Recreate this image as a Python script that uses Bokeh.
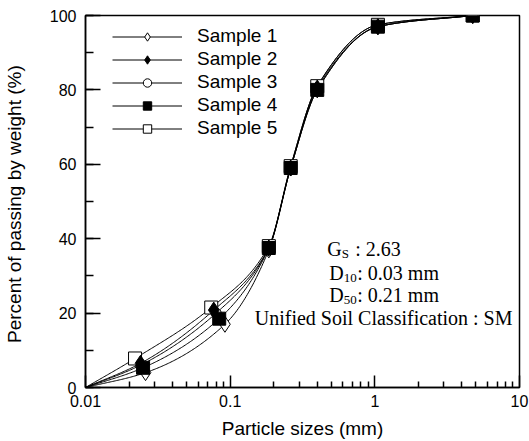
import numpy as np
from bokeh.plotting import figure
from bokeh.models import (Range1d, FixedTicker, SingleIntervalTicker, Legend,
                          LegendItem, Label)
from bokeh.embed import file_html
from bokeh.resources import INLINE

# Grain-size distribution: particle size (mm) vs. percent passing (%)
sample_names = ["Sample 1", "Sample 2", "Sample 3", "Sample 4", "Sample 5"]

size_s1 = [0.026, 0.092, 0.185, 0.262, 0.40, 1.05, 4.75]
pass_s1 = [4.0, 17.0, 37.0, 59.0, 80.0, 97.0, 100.0]

size_s2 = [0.024, 0.077, 0.185, 0.262, 0.40, 1.05, 4.75]
pass_s2 = [6.5, 20.8, 37.5, 59.0, 80.5, 97.0, 100.0]

size_s3 = [0.024, 0.080, 0.185, 0.262, 0.40, 1.05, 4.75]
pass_s3 = [6.0, 20.0, 37.5, 59.5, 81.0, 97.5, 100.0]

size_s4 = [0.025, 0.084, 0.185, 0.262, 0.40, 1.05, 4.75]
pass_s4 = [5.3, 18.5, 37.5, 59.0, 80.0, 97.0, 100.0]

size_s5 = [0.022, 0.074, 0.185, 0.262, 0.40, 1.05, 4.75]
pass_s5 = [7.8, 21.5, 38.0, 59.5, 81.0, 97.5, 100.0]

# every gradation curve starts at the origin of the chart
curve_start_size = 0.01
curve_start_pass = 0.0

x_tick_values = [0.01, 0.1, 1, 10]
x_tick_labels = ["0.01", "0.1", "1", "10"]

specific_gravity = "2.63"
d10_text = "0.03 mm"
d50_text = "0.21 mm"
uscs_text = "Unified Soil Classification : SM"


def smooth_curve(xs, ys, n=300):
    """Monotone cubic (Fritsch-Carlson) curve through the points, in log-x."""
    u = np.log10(np.asarray(xs, dtype=float))
    y = np.asarray(ys, dtype=float)
    h = np.diff(u)
    d = np.diff(y) / h
    m = np.zeros_like(y)
    m[0], m[-1] = d[0], d[-1]
    for k in range(1, len(y) - 1):
        if d[k - 1] * d[k] <= 0:
            m[k] = 0.0
        else:
            w1 = 2 * h[k] + h[k - 1]
            w2 = h[k] + 2 * h[k - 1]
            m[k] = (w1 + w2) / (w1 / d[k - 1] + w2 / d[k])
    uu = np.linspace(u[0], u[-1], n)
    idx = np.clip(np.searchsorted(u, uu) - 1, 0, len(u) - 2)
    t = (uu - u[idx]) / h[idx]
    h00 = 2 * t**3 - 3 * t**2 + 1
    h10 = t**3 - 2 * t**2 + t
    h01 = -2 * t**3 + 3 * t**2
    h11 = t**3 - t**2
    yy = (h00 * y[idx] + h10 * h[idx] * m[idx] + h01 * y[idx + 1]
          + h11 * h[idx] * m[idx + 1])
    return 10**uu, yy


p = figure(width=529, height=441, x_axis_type="log",
           x_range=Range1d(0.01, 10), y_range=Range1d(0, 100),
           output_backend="svg", toolbar_location=None,
           min_border_left=81, min_border_right=10,
           min_border_top=15, min_border_bottom=51)
p.background_fill_color = "white"
p.border_fill_color = "white"
p.outline_line_color = "black"
p.outline_line_width = 1.5
p.xgrid.visible = False
p.ygrid.visible = False

series = [
    (size_s1, pass_s1, dict(marker="diamond", size=16,
                            fill_color="white", line_color="black")),
    (size_s2, pass_s2, dict(marker="diamond", size=16,
                            fill_color="black", line_color="black")),
    (size_s3, pass_s3, dict(marker="circle", size=10,
                            fill_color="white", line_color="black")),
    (size_s4, pass_s4, dict(marker="square", size=13,
                            fill_color="black", line_color="black")),
    (size_s5, pass_s5, dict(marker="square", size=13,
                            fill_color="white", line_color="black")),
]

lines = []
for xs, ys, _ in series:
    cx, cy = smooth_curve([curve_start_size] + xs, [curve_start_pass] + ys)
    lines.append(p.line(cx, cy, line_color="black", line_width=1))

markers = [None] * len(series)
for i in [0, 2, 4, 1, 3]:
    xs, ys, style = series[i]
    markers[i] = p.scatter(xs, ys, line_width=1, **style)

legend = Legend(items=[LegendItem(label=name, renderers=[lines[i], markers[i]])
                       for i, name in enumerate(sample_names)],
                location=(27, 248), padding=0, margin=0, spacing=1,
                glyph_width=70, glyph_height=21, label_height=21,
                label_standoff=15, border_line_color=None,
                background_fill_alpha=0,
                label_text_font="Liberation Sans",
                label_text_font_size="19px", label_text_color="black")
p.add_layout(legend)

# axes
xa = p.xaxis[0]
xa.ticker = FixedTicker(ticks=x_tick_values,
                        minor_ticks=[m * 10.0**e for e in (-2, -1, 0)
                                     for m in range(2, 10)])
xa.major_label_overrides = {v: s for v, s in zip(x_tick_values, x_tick_labels)}
xa.axis_label = "Particle sizes (mm)"

ya = p.yaxis[0]
ya.ticker = SingleIntervalTicker(interval=20, num_minor_ticks=2)
ya.axis_label = "Percent of passing by weight  (%)"

for ax in (xa, ya):
    ax.axis_line_color = "black"
    ax.axis_line_width = 1.5
    ax.major_tick_line_color = "black"
    ax.minor_tick_line_color = "black"
    ax.major_tick_line_width = 1.5
    ax.minor_tick_line_width = 1.5
    ax.major_tick_out = 0
    ax.minor_tick_out = 0
    ax.major_label_text_font = "Liberation Sans"
    ax.major_label_text_font_size = "16px"
    ax.major_label_text_color = "black"
    ax.axis_label_text_font = "Liberation Sans"
    ax.axis_label_text_font_size = "19px"
    ax.axis_label_text_font_style = "normal"
    ax.axis_label_text_color = "black"

xa.major_tick_in = 12
xa.minor_tick_in = 6
xa.major_label_standoff = 7
xa.axis_label_standoff = 8
ya.major_tick_in = 15
ya.minor_tick_in = 8
ya.major_label_standoff = 9
ya.axis_label_standoff = 22

# soil property notes
note_x = 0.469
note_y = [37.3, 30.9, 24.8, 18.7]
note_right = 8.95


def add_note(x, y, text, size, dx=0, dy=0, align="left"):
    p.add_layout(Label(x=x, y=y, text=text, text_font_size=size,
                       x_offset=dx, y_offset=dy, text_align=align,
                       text_font="Liberation Serif", text_color="black",
                       text_baseline="alphabetic"))


add_note(note_x, note_y[0], "G", "20px")
add_note(note_x, note_y[0], "S", "13px", dx=14.5, dy=-5)
add_note(note_x, note_y[0], ": " + specific_gravity, "20px", dx=28)

add_note(note_x, note_y[1], "D", "20px", dx=2)
add_note(note_x, note_y[1], "10", "13px", dx=16.5, dy=-5)
add_note(note_x, note_y[1], ": " + d10_text, "20px", dx=30)

add_note(note_x, note_y[2], "D", "20px", dx=2)
add_note(note_x, note_y[2], "50", "13px", dx=16.5, dy=-5)
add_note(note_x, note_y[2], ": " + d50_text, "20px", dx=30)

add_note(note_right, note_y[3], uscs_text, "20px", align="right")

open("out.html", "w").write(file_html(p, INLINE))
